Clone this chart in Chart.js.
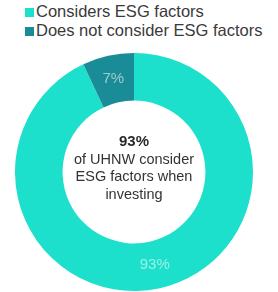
<!DOCTYPE html>
<html>
<head>
<meta charset="utf-8">
<script src="https://cdn.jsdelivr.net/npm/chart.js@4"></script>
<style>
  body { margin: 0; background: #fff; width: 278px; height: 292px; position: relative; overflow: hidden; font-family: "Liberation Sans", Arial, sans-serif; }
  #legend { position: absolute; left: 25px; top: 2px; color: #3a3a3a; font-size: 16.5px; }
  .item { height: 19px; line-height: 19px; white-space: nowrap; }
  .box { display: inline-block; width: 9px; height: 9px; margin-right: 2px; vertical-align: 0px; }
  #wrap { position: absolute; left: 15px; top: 53px; width: 238px; height: 238px; }
</style>
</head>
<body>
<div id="legend"></div>
<div id="wrap"><canvas id="pie"></canvas></div>
<script>
// === DATA ===
const labels = ["Considers ESG factors", "Does not consider ESG factors"];
const values = [93, 7];
const colors = ["#1de0cc", "#1a8c98"];
const centerLines = ["93%", "of UHNW consider", "ESG factors when", "investing"];

// === HTML LEGEND ===
const legend = document.getElementById("legend");
labels.forEach((l, i) => {
    const row = document.createElement("div");
    row.className = "item";
    row.innerHTML = '<span class="box" style="background:' + colors[i] + '"></span>' + l;
    legend.appendChild(row);
});

// === SLICE LABELS + CENTER TEXT ===
const textPlugin = {
    id: "textPlugin",
    afterDatasetsDraw(chart) {
        const ctx = chart.ctx;
        const meta = chart.getDatasetMeta(0);
        ctx.save();
        ctx.textAlign = "center";
        ctx.textBaseline = "middle";
        ctx.font = "15px 'Liberation Sans', Arial, sans-serif";
        ctx.fillStyle = "rgba(255,255,255,0.55)";
        meta.data.forEach((arc, i) => {
            const p = arc.tooltipPosition();
            ctx.fillText(values[i] + "%", p.x, p.y);
        });
        const cx = (chart.chartArea.left + chart.chartArea.right) / 2;
        const cy = (chart.chartArea.top + chart.chartArea.bottom) / 2;
        ctx.fillStyle = "#2a2a2a";
        ctx.font = "bold 15px 'Liberation Sans', Arial, sans-serif";
        ctx.fillText(centerLines[0], cx, cy - 30);
        ctx.fillStyle = "#333";
        ctx.font = "14.5px 'Liberation Sans', Arial, sans-serif";
        for (let i = 1; i < centerLines.length; i++) {
            ctx.fillText(centerLines[i], cx, cy - 30 + i * 17.5);
        }
        ctx.restore();
    }
};

new Chart(document.getElementById("pie").getContext("2d"), {
    type: "doughnut",
    data: {
        labels: labels,
        datasets: [{
            data: values,
            backgroundColor: colors,
            borderWidth: 0
        }]
    },
    options: {
        responsive: true,
        maintainAspectRatio: false,
        animation: false,
        cutout: "60%",
        layout: { padding: 0 },
        plugins: { legend: { display: false }, tooltip: { enabled: false } }
    },
    plugins: [textPlugin]
});
</script>
</body>
</html>
